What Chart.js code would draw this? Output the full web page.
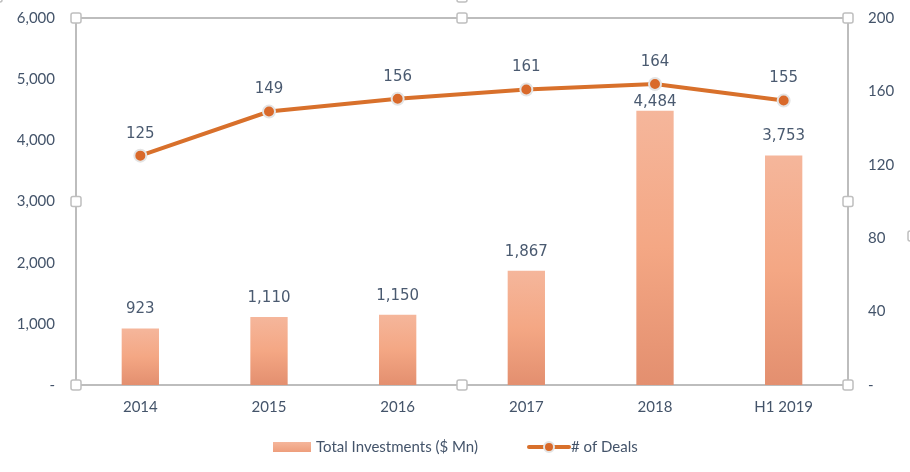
<!DOCTYPE html>
<html>
<head>
<meta charset="utf-8">
<script src="https://cdn.jsdelivr.net/npm/chart.js@4/dist/chart.umd.min.js"></script>
<style>
  html, body { margin: 0; padding: 0; background: #fff; }
  #wrap { width: 910px; height: 472px; }
</style>
</head>
<body>
<div id="wrap"><canvas id="chart" width="910" height="472"></canvas></div>
<script>
// dados
const categories = ['2014', '2015', '2016', '2017', '2018', 'H1 2019'];
const investments = [923, 1110, 1150, 1867, 4484, 3753];
const deals = [125, 149, 156, 161, 164, 155];
const leftTicks = [0, 1000, 2000, 3000, 4000, 5000, 6000];
const rightTicks = [0, 40, 80, 120, 160, 200];

const textColor = '#44546A';
const frameColor = '#BDBDBD';
const lineColor = '#D8702B';

// formato contábil do Excel: zero vira "-"
function fmt(v) {
  return v === 0 ? '-' : v.toLocaleString('en-US');
}

// gradiente por barra (claro em cima, escuro embaixo)
function barGradient(ctx) {
  const chart = ctx.chart;
  if (!chart.chartArea || ctx.type !== 'data') return '#F3A886';
  const y = chart.scales.y;
  const top = y.getPixelForValue(ctx.raw);
  const bottom = y.getPixelForValue(0);
  const g = chart.ctx.createLinearGradient(0, top, 0, bottom);
  g.addColorStop(0, '#F5B69B');
  g.addColorStop(0.5, '#F4A784');
  g.addColorStop(1, '#E38F6F');
  return g;
}

function handle(c, x, y) {
  c.save();
  c.fillStyle = '#fff';
  c.strokeStyle = '#BFBFBF';
  c.lineWidth = 1.5;
  c.beginPath();
  c.roundRect(x - 5, y - 5, 10, 10, 2);
  c.fill();
  c.stroke();
  c.restore();
}

// tira o espaço extra que o Chart.js reserva para os rótulos
function fixAxis(width) {
  return s => {
    s.width = width;
    s.paddingTop = 0;
    s.paddingBottom = 0;
  };
}

const framePlugin = {
  id: 'frame',
  beforeDatasetsDraw(chart) {
    const { ctx, chartArea: a } = chart;
    ctx.save();
    ctx.strokeStyle = frameColor;
    ctx.lineWidth = 2;
    ctx.strokeRect(a.left, a.top, a.right - a.left, a.bottom - a.top);
    ctx.restore();
  },
  afterDraw(chart) {
    const { ctx, chartArea: a } = chart;
    const midX = (a.left + a.right) / 2;
    const midY = (a.top + a.bottom) / 2;
    [[a.left, a.top], [midX, a.top], [a.right, a.top],
     [a.left, midY], [a.right, midY],
     [a.left, a.bottom], [midX, a.bottom], [a.right, a.bottom]]
      .forEach(p => handle(ctx, p[0], p[1]));
    // alças da área do gráfico, cortadas na borda
    handle(ctx, midX, -3);
    handle(ctx, 913, 236);
    handle(ctx, -3, -3);

    // rótulos de dados
    const barMeta = chart.getDatasetMeta(0);
    const lineMeta = chart.getDatasetMeta(1);
    ctx.save();
    ctx.font = '15px "DejaVu Sans"';
    ctx.fillStyle = '#4A5A70';
    ctx.textAlign = 'center';
    ctx.textBaseline = 'middle';
    barMeta.data.forEach((bar, i) => {
      let ly = bar.y - 19;
      const py = lineMeta.data[i].y;
      if (Math.abs(ly - py) < 16) ly = bar.y - 9;
      ctx.fillText(fmt(investments[i]), bar.x, ly);
    });
    lineMeta.data.forEach((pt, i) => {
      ctx.fillText(fmt(deals[i]), pt.x, pt.y - 22);
    });
    ctx.restore();

    // legenda desenhada à mão
    ctx.save();
    const ly = 447;
    const g = ctx.createLinearGradient(0, ly - 5, 0, ly + 5);
    g.addColorStop(0, '#F5B69B');
    g.addColorStop(1, '#EE9E7C');
    ctx.fillStyle = g;
    ctx.fillRect(273, ly - 5, 38, 10);
    ctx.font = '15px Lato';
    ctx.fillStyle = textColor;
    ctx.textBaseline = 'middle';
    ctx.fillText('Total Investments ($ Mn)', 316, ly);
    ctx.strokeStyle = lineColor;
    ctx.lineWidth = 4;
    ctx.lineCap = 'round';
    ctx.beginPath();
    ctx.moveTo(529, ly);
    ctx.lineTo(569, ly);
    ctx.stroke();
    ctx.beginPath();
    ctx.arc(549, ly, 5, 0, Math.PI * 2);
    ctx.fillStyle = '#D9692A';
    ctx.fill();
    ctx.strokeStyle = '#E4E4E4';
    ctx.lineWidth = 2;
    ctx.stroke();
    ctx.fillStyle = textColor;
    ctx.fillText('# of Deals', 571, ly);
    ctx.restore();
  }
};

new Chart(document.getElementById('chart'), {
  data: {
    labels: categories,
    datasets: [
      {
        type: 'bar',
        label: 'Total Investments ($ Mn)',
        data: investments,
        yAxisID: 'y',
        backgroundColor: barGradient,
        barPercentage: 0.29,
        categoryPercentage: 1,
        order: 2
      },
      {
        type: 'line',
        label: '# of Deals',
        data: deals,
        yAxisID: 'y1',
        borderColor: lineColor,
        borderWidth: 4,
        pointRadius: 6,
        pointBackgroundColor: '#D9692A',
        pointBorderColor: '#E4E4E4',
        pointBorderWidth: 2,
        tension: 0,
        order: 1
      }
    ]
  },
  options: {
    responsive: false,
    animation: false,
    layout: { padding: { top: 18, left: 0, right: 0, bottom: 0 } },
    plugins: {
      legend: { display: false },
      tooltip: { enabled: false }
    },
    scales: {
      x: {
        grid: { display: false, drawTicks: false },
        border: { display: false },
        ticks: { color: textColor, font: { family: 'Lato', size: 15 }, padding: 13 },
        afterFit: s => { s.height = 87; s.paddingLeft = 0; s.paddingRight = 0; }
      },
      y: {
        position: 'left',
        min: 0, max: 6000,
        afterBuildTicks: s => { s.ticks = leftTicks.map(v => ({ value: v })); },
        grid: { display: false, drawTicks: false },
        border: { display: false },
        ticks: { color: textColor, font: { family: 'Lato', size: 15 }, padding: 21, callback: v => fmt(v) },
        afterFit: fixAxis(76)
      },
      y1: {
        position: 'right',
        min: 0, max: 200,
        afterBuildTicks: s => { s.ticks = rightTicks.map(v => ({ value: v })); },
        grid: { display: false, drawTicks: false },
        border: { display: false },
        ticks: { color: textColor, font: { family: 'Lato', size: 15 }, padding: 20, callback: v => fmt(v) },
        afterFit: fixAxis(62)
      }
    }
  },
  plugins: [framePlugin]
});
</script>
</body>
</html>
